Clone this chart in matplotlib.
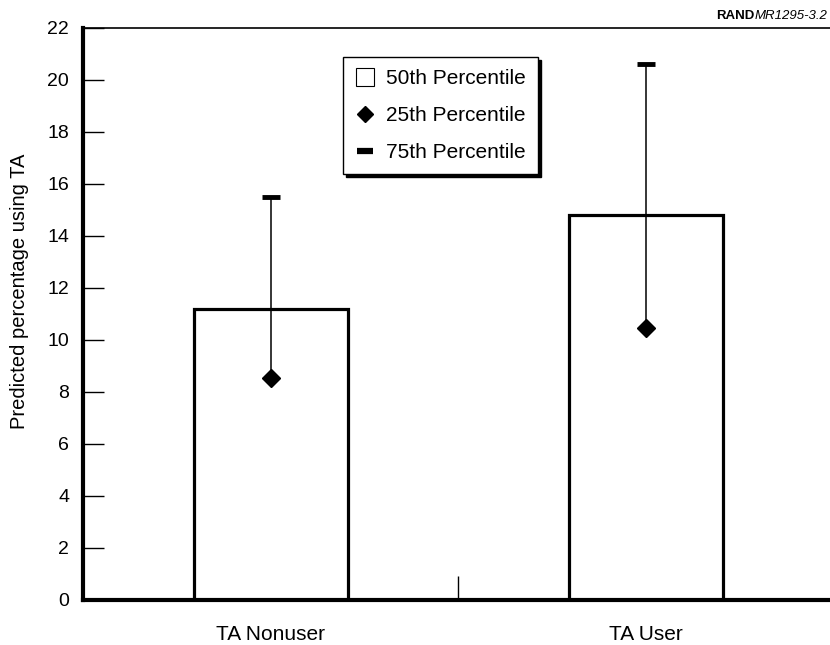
import matplotlib.pyplot as plt
from matplotlib.lines import Line2D

plt.rcParams['font.family'] = ['Liberation Sans', 'DejaVu Sans']

# predicted percentage using TA, by group
groups = ['TA Nonuser', 'TA User']
p50 = [11.2, 14.8]
p25 = [8.55, 10.45]
p75 = [15.5, 20.6]

fig = plt.figure(figsize=(8.3, 6.45), dpi=100)
ax = fig.add_axes([0.1, 0.07, 0.9, 0.887])

x = list(range(len(groups)))
ax.bar(x, p50, width=0.41, color='white', edgecolor='black', linewidth=2.3, zorder=2)
for xi, lo, hi in zip(x, p25, p75):
    ax.plot([xi, xi], [lo, hi], color='black', lw=1.1, zorder=3)
ax.plot(x, p25, linestyle='none', marker='D', ms=9, color='black', zorder=4)
ax.plot(x, p75, linestyle='none', marker='_', ms=13, mew=3.5, color='black', zorder=4)

ax.set_xlim(-0.5, 1.49)
ax.set_ylim(0, 22)
ax.set_yticks(range(0, 23, 2))
ax.tick_params(axis='y', direction='in', length=15, width=1, labelsize=14, pad=10)
ax.set_xticks(x)
ax.set_xticklabels(groups)
ax.tick_params(axis='x', which='major', length=0, labelsize=15, pad=18)
ax.set_xticks([0.5], minor=True)
ax.tick_params(axis='x', which='minor', direction='in', length=17, width=1)

ax.spines['right'].set_visible(False)
ax.spines['left'].set_linewidth(3)
ax.spines['bottom'].set_linewidth(3)
ax.spines['top'].set_linewidth(1.2)

ax.set_ylabel('Predicted percentage using TA', fontsize=14.5)
ax.yaxis.set_label_coords(-0.072, 0.54)

handles = [
    Line2D([], [], linestyle='none', marker='s', ms=13, mfc='white', mec='black', mew=0.8),
    Line2D([], [], linestyle='none', marker='D', ms=8, color='black'),
    Line2D([], [], linestyle='none', marker='_', ms=12, mew=4.5, color='black'),
]
labels = ['50th Percentile', '25th Percentile', '75th Percentile']
leg = ax.legend(handles, labels, loc='upper left', bbox_to_anchor=(0.348, 0.949),
                borderaxespad=0, fontsize=15, frameon=True, fancybox=False,
                labelspacing=0.85, handletextpad=0.55, borderpad=0.6, handlelength=0.9,
                shadow={'color': 'black', 'alpha': 1})
leg.get_frame().set_edgecolor('black')
leg.get_frame().set_linewidth(1)

fig.text(0.909, 0.9705, 'RAND', fontsize=9.5, fontweight='bold', ha='right', va='baseline')
fig.text(0.909, 0.9705, 'MR1295-3.2', fontsize=9.5, style='italic', ha='left', va='baseline')

fig.savefig('out.png', dpi=100)
